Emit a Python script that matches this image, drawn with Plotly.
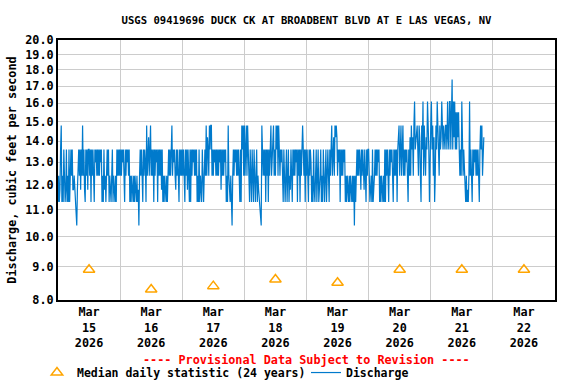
import pandas as pd
import plotly.graph_objects as go

# Discharge readings (15-minute), coded by gauge level
LEVEL_CODES = ["a", "b", "c", "d", "e", "f", "g", "h", "i", "j", "k", "l"]
LEVEL_VALUES = [10.4, 10.8, 11.3, 11.8, 12.4, 13.0, 13.6, 14.2, 14.8, 15.5, 16.1, 17.4]

day_mar15 = ("cecdg" "i" "cecgecdgcecgce" "gegd" "dedcbade" "gegdgeiegdcgegdg"
             "gegcgegecgfgeg" "egegfg" "cecgdecegegcedcegcedcec" "gegeg")
day_mar16 = ("egegfgecgegfgeg" "cecedcecedcecd" "a" "e"
             "gegecgegfciegheiiegegcgegfgcgegegdg" "cecedcece" "gegegiegfgedgegecgege")
day_mar17 = ("gegecgegdgecgcgegfgege" "gcecgcedcgece" "geiehgeigiiegegfgege"
             "gegfgdgegegfg" "ceciedceca" "egegfgegegecgc" "igie")
day_mar18 = ("iegieige" "cgecgecgdcegcedc" "cba" "i" "gegegcgegcgegiegiiege"
             "igieig" "egfge" "cgecegcegcedgecg" "egegfgcgegcgegigegcg")
day_mar19 = ("egecgegf" "cecgdcegcegcdegcecgdcegce" "gecgegiegheihihegfgcgegegfg"
             "cecedcecedceceaece" "gegegfdgegedgecgeg")
day_mar20 = ("gecdecgcde" "gegegfg" "cecedcec" "gc" "gegecgegfgecgegegcghiegieg"
             "i" "egegfgecge" "heigheikghi" "igeihecigkeigehgkigci")
day_mar21 = ("ikgiehceigkige" "ighkigihgiigkhgk" "kgklgkhkgjgjhjg" "egekgegfe"
             "cecdcek" "egecgegfgegegec" "gigiegh")

median_dates = ["2026-03-15 12:00", "2026-03-16 12:00", "2026-03-17 12:00", "2026-03-18 12:00",
                "2026-03-19 12:00", "2026-03-20 12:00", "2026-03-21 12:00", "2026-03-22 12:00"]
median_values = [8.9, 8.3, 8.4, 8.6, 8.5, 8.9, 8.9, 8.9]

y_tick_values = [8, 9, 10, 11, 12, 13, 14, 15, 16, 17, 18, 19, 20]
y_tick_labels = ["8.0", "9.0", "10.0", "11.0", "12.0", "13.0", "14.0", "15.0",
                 "16.0", "17.0", "18.0", "19.0", "20.0"]
x_tick_dates = median_dates
x_tick_labels = ["Mar<br>15<br>2026", "Mar<br>16<br>2026", "Mar<br>17<br>2026",
                 "Mar<br>18<br>2026", "Mar<br>19<br>2026", "Mar<br>20<br>2026",
                 "Mar<br>21<br>2026", "Mar<br>22<br>2026"]

level_map = dict(zip(LEVEL_CODES, LEVEL_VALUES))
codes = day_mar15 + day_mar16 + day_mar17 + day_mar18 + day_mar19 + day_mar20 + day_mar21
discharge = [level_map[c] for c in codes]
times = pd.date_range("2026-03-15 00:00", periods=len(discharge), freq="15min")

FONT = "DejaVu Sans Mono"
FS = 11.8
LEG_FONT = dict(family=FONT, size=11.5, color="black", weight="bold")

fig = go.Figure()
fig.add_trace(go.Scatter(
    x=median_dates, y=median_values, mode="markers",
    name="Median daily statistic (24 years)", legend="legend",
    marker=dict(symbol="triangle-up-open", size=10, color="#FFA500", line=dict(width=1.5, color="#FFA500")),
))
fig.add_trace(go.Scatter(
    x=times, y=discharge, mode="lines", name="Discharge", legend="legend2",
    line=dict(color="#007ACC", width=1.2),
))

fig.update_layout(
    width=576, height=384,
    margin=dict(l=58, r=21, t=40, b=84, autoexpand=False),
    paper_bgcolor="white", plot_bgcolor="white",
    font=dict(family=FONT, size=FS, color="black", weight="bold"),
    title=dict(text="USGS 09419696 DUCK CK AT BROADBENT BLVD AT E LAS VEGAS, NV",
               x=0.5, xref="paper", xanchor="center", y=1 - 20 / 384, yref="container",
               yanchor="middle",
               font=dict(family=FONT, size=10.6, color="black", weight="bold")),
    showlegend=True,
    legend=dict(orientation="h", x=-0.0423, xanchor="left", y=-0.279, yanchor="middle",
                font=LEG_FONT, bgcolor="rgba(0,0,0,0)", itemwidth=30),
    legend2=dict(orientation="h", x=0.499, xanchor="left", y=-0.279, yanchor="middle",
                 font=LEG_FONT, bgcolor="rgba(0,0,0,0)", itemwidth=30),
    annotations=[dict(text="---- Provisional Data Subject to Revision ----",
                      x=0.5, xref="paper", y=-0.229, yref="paper",
                      xanchor="center", yanchor="middle", showarrow=False,
                      font=dict(family=FONT, size=FS, color="#FF0000", weight="bold"))],
)

fig.update_xaxes(
    type="date", range=["2026-03-15 00:00", "2026-03-23 00:00"], automargin=False,
    tickmode="array", tickvals=x_tick_dates, ticktext=x_tick_labels,
    ticks="", showgrid=False, zeroline=False,
    showline=True, linecolor="black", linewidth=2, mirror=True,
    minor=dict(tick0="2026-03-15", dtick=86400000, showgrid=True,
               gridcolor="#CCCCCC", gridwidth=1, ticks=""),
    tickfont=dict(family=FONT, size=FS, color="black", weight="bold"),
)
fig.update_yaxes(
    type="log", range=[0.90309, 1.30103], automargin=False,
    tickmode="array", tickvals=y_tick_values, ticktext=y_tick_labels,
    ticks="", showgrid=True, gridcolor="#CCCCCC", gridwidth=1, zeroline=False,
    showline=True, linecolor="black", linewidth=2, mirror=True,
    title=dict(text="Discharge, cubic feet per second", standoff=6,
               font=dict(family=FONT, size=FS, color="black", weight="bold")),
    tickfont=dict(family=FONT, size=FS, color="black", weight="bold"),
)

fig.write_html("out.html", config={"displayModeBar": False},
               post_script="document.body.style.margin='0';")
